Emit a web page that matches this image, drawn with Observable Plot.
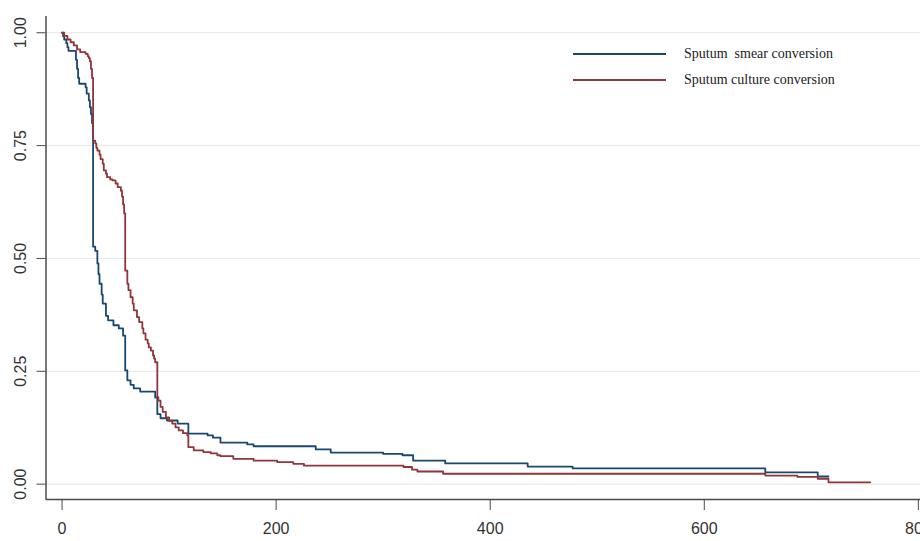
<!DOCTYPE html>
<html><head><meta charset="utf-8">
<script src="https://cdn.jsdelivr.net/npm/d3@7"></script>
<script src="https://cdn.jsdelivr.net/npm/@observablehq/plot@0.6"></script>
<style>
html,body{margin:0;padding:0;background:#fff;overflow:hidden}
#wrap{position:relative;width:920px;height:541px;overflow:hidden;background:#fff}
#legend{position:absolute;left:573px;top:41px;font-family:"Liberation Serif","DejaVu Serif",serif;font-size:14px;color:#222}
.row{display:flex;align-items:center;height:26px;white-space:pre}
.sw{width:93px;height:0;border-top:2px solid;margin-right:18px}
</style></head><body><div id="wrap"><div id="legend"></div></div>
<script>
const seriesNames = ["Sputum  smear conversion", "Sputum culture conversion"];
const seriesColors = ["#1a476f", "#90353b"];

const smearTime = [0,1,2,4,5,6,13,14,15,16,22,23,25,26,27,28,29,31,33,34,35,37,38,41,43,48,53,57,59,61,64,67,73,87,89,92,98,108,118,136,141,148,173,179,237,251,300,318,328,358,435,477,657,706,716];
const smearSurv = [1,0.992,0.985,0.977,0.968,0.96,0.94,0.92,0.90,0.887,0.879,0.865,0.85,0.835,0.82,0.80,0.526,0.517,0.489,0.465,0.444,0.42,0.40,0.373,0.363,0.352,0.345,0.329,0.252,0.23,0.22,0.212,0.205,0.192,0.155,0.146,0.141,0.134,0.112,0.108,0.103,0.092,0.088,0.084,0.077,0.070,0.067,0.064,0.052,0.046,0.039,0.035,0.026,0.017,0.017];

const cultureTime = [0,2,5,8,11,14,17,22,24,25,26,27,28,29,31,32,33,35,36,38,39,41,42,45,47,50,52,55,56,57,58,59,61,62,64,66,67,70,72,75,76,78,80,81,83,85,86,87,89,90,92,94,97,100,103,106,109,113,117,118,123,132,139,145,148,160,179,201,216,226,319,327,332,356,657,687,706,716,755];
const cultureSurv = [1,0.993,0.985,0.979,0.972,0.963,0.957,0.953,0.948,0.944,0.937,0.92,0.90,0.761,0.755,0.745,0.739,0.730,0.720,0.71,0.695,0.688,0.680,0.675,0.673,0.666,0.658,0.650,0.637,0.62,0.60,0.473,0.444,0.43,0.414,0.40,0.385,0.37,0.359,0.345,0.334,0.32,0.312,0.303,0.296,0.285,0.278,0.270,0.193,0.185,0.171,0.16,0.148,0.14,0.134,0.126,0.119,0.113,0.108,0.082,0.075,0.071,0.068,0.064,0.062,0.056,0.052,0.049,0.045,0.041,0.038,0.032,0.028,0.023,0.019,0.016,0.012,0.004,0.004];

const xTicks = [0, 200, 400, 600, 800];
const yTicks = [0, 0.25, 0.5, 0.75, 1];
const yTickLabels = ["0.00", "0.25", "0.50", "0.75", "1.00"];
const xDomain = [-15, 802];
const yDomain = [-0.034, 1.036];

const rows = [];
smearTime.forEach((t, i) => rows.push({t, s: smearSurv[i], g: seriesNames[0]}));
cultureTime.forEach((t, i) => rows.push({t, s: cultureSurv[i], g: seriesNames[1]}));

const axisColor = "#4a4a4a";
const chart = Plot.plot({
  width: 920, height: 541,
  marginLeft: 45.5, marginRight: 0, marginTop: 16, marginBottom: 42,
  x: {domain: xDomain},
  y: {domain: yDomain},
  color: {domain: seriesNames, range: seriesColors},
  style: {background: "#fff", overflow: "hidden", fontFamily: "'Liberation Sans', Arial, sans-serif"},
  marks: [
    Plot.gridY(yTicks, {stroke: "#e6e6e6", strokeOpacity: 1, strokeWidth: 1}),
    Plot.line(rows, {x: "t", y: "s", z: "g", stroke: "g", curve: "step-after", strokeWidth: 1.8}),
    Plot.ruleX([xDomain[0]], {stroke: axisColor, strokeWidth: 1.5}),
    Plot.ruleY([yDomain[0]], {stroke: axisColor, strokeWidth: 1.5}),
    Plot.axisX(xTicks, {tickSize: 11, tickPadding: 12, fontSize: 16, stroke: axisColor, fill: "#333", label: null, tickFormat: d => String(d)}),
    Plot.axisY(yTicks, {tickSize: 9, stroke: axisColor, label: null, tickFormat: () => ""}),
    Plot.text(yTicks, {y: d => d, text: (d, i) => yTickLabels[i], frameAnchor: "left", dx: -25.5, rotate: -90, fontSize: 16, fill: "#333", textAnchor: "middle", lineAnchor: "middle"})
  ]
});
const wrap = document.getElementById("wrap");
wrap.insertBefore(chart, wrap.firstChild);

const legend = document.getElementById("legend");
seriesNames.forEach((name, i) => {
  const row = document.createElement("div");
  row.className = "row";
  const sw = document.createElement("div");
  sw.className = "sw";
  sw.style.borderTopColor = seriesColors[i];
  const lab = document.createElement("span");
  lab.textContent = name;
  row.appendChild(sw);
  row.appendChild(lab);
  legend.appendChild(row);
});
</script></body></html>
